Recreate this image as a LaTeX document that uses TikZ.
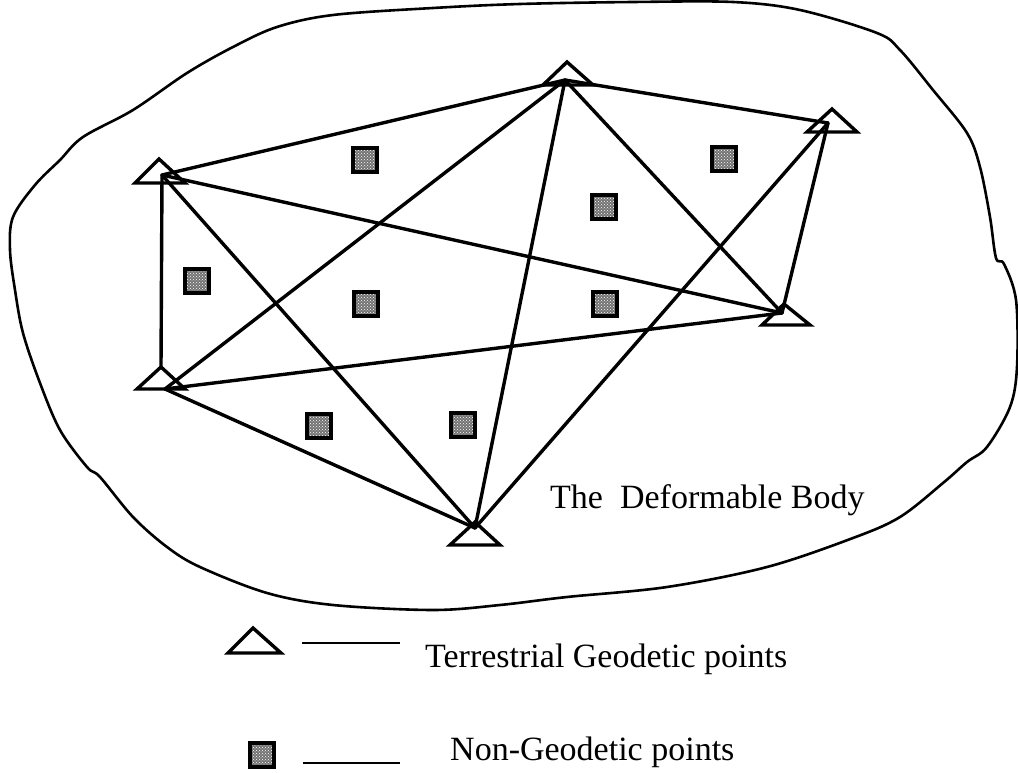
\documentclass[tikz,border=0pt]{standalone}
\usepackage{fontspec}
\setmainfont{Liberation Serif}
\usetikzlibrary{patterns}
\begin{document}
\begin{tikzpicture}[x=1pt,y=-1pt,
  edge/.style={line width=3.4pt, line cap=round, line join=round},
  tri/.style={line width=3.4pt, line join=miter},
  body/.style={line width=2.6pt, line join=round},
  sqbox/.style={draw, line width=3.5pt, minimum size=24pt, inner sep=0pt,
     preaction={fill=black!55}, pattern=crosshatch dots, pattern color=white},
  lbl/.style={inner sep=0pt, anchor=base west, font=\fontsize{34}{40}\selectfont}]
\useasboundingbox (0,0) rectangle (1018,773);
% deformable body outline
\draw[body] plot[smooth cycle, tension=0.55] coordinates {
 (13,217) (35,185) (60,160) (83,137) (133,110) (187,73) (233,47) (277,27)
 (333,15) (433,8) (520,4) (633,2) (733,2) (800,10) (877,33) (900,50)
 (933,90) (967,133) (980,167) (990,217) (996,258) (1004,264) (1016,300)
 (1017,367) (1010,407) (987,447) (967,462) (943,483) (900,517) (853,538)
 (767,567) (667,587) (567,597) (500,605) (433,610) (333,605) (267,593)
 (200,567) (167,547) (133,517) (100,477) (87,467) (60,430) (40,383)
 (23,333) (15,290) (10,250)};
% junction points of geodetic stations
\coordinate (A) at (162,175);
\coordinate (B) at (565,80);
\coordinate (C) at (828,123);
\coordinate (D) at (782,313);
\coordinate (E) at (165,389);
\coordinate (Ea) at (161,367);
\coordinate (F) at (475,528);
% network lines
\draw[edge] (A) -- (B);
\draw[edge] (B) -- (C);
\draw[edge] (A) -- (D);
\draw[edge] (A) -- (Ea);
\draw[edge] (A) -- (F);
\draw[edge] (E) -- (B);
\draw[edge] (E) -- (D);
\draw[edge] (E) -- (F);
\draw[edge] (B) -- (F);
\draw[edge] (B) -- (D);
\draw[edge] (C) -- (F);
\draw[edge] (C) -- (D);
% triangles
\draw[tri] (135,183) -- (159,159) -- (185,183) -- cycle;
\draw[tri] (543,85) -- (567,62) -- (593,85) -- cycle;
\draw[tri] (807,132) -- (832,109) -- (857,132) -- cycle;
\draw[tri] (762,325) -- (784,304) -- (810,325) -- cycle;
\draw[tri] (137,389) -- (161,367) -- (185,389) -- cycle;
\draw[tri] (450,545) -- (475,522) -- (500,545) -- cycle;
% non-geodetic points
\node[sqbox] (s1) at (365,160) {};
\node[sqbox] (s2) at (197,281) {};
\node[sqbox] (s3) at (366,304) {};
\node[sqbox] (s4) at (724,159) {};
\node[sqbox] (s5) at (604,207) {};
\node[sqbox] (s6) at (605,304) {};
\node[sqbox] (s7) at (319,426) {};
\node[sqbox] (s8) at (463,425) {};
% label
\node[lbl] (title) at (550,508) {The\ \ Deformable Body};
% legend
\draw[tri] (228,653) -- (253,628) -- (281,653) -- cycle;
\coordinate (l1a) at (302,643);
\coordinate (l1b) at (400,643);
\draw[line width=2pt] (l1a) -- (l1b);
\node[lbl] (t1) at (425,667) {Terrestrial Geodetic points};
\node[sqbox] (ls) at (262,755) {};
\coordinate (l2a) at (303,763);
\coordinate (l2b) at (400,763);
\draw[line width=2pt] (l2a) -- (l2b);
\node[lbl] (t2) at (450,760) {Non-Geodetic points};
\end{tikzpicture}
\end{document}
